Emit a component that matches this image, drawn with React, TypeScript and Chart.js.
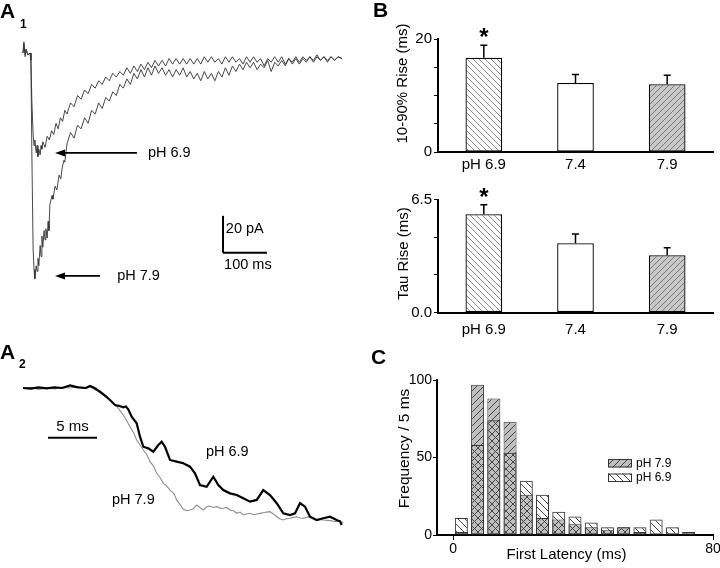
import React, { useEffect, useRef } from "react";
import { Chart, registerables } from "chart.js";
Chart.register(...registerables);

const FONT = "'Liberation Sans', Arial, Helvetica, sans-serif";
Chart.defaults.font.family = FONT;
Chart.defaults.color = "#000";

// ---------- Panel A1: whole EPSC traces, [time ms, current pA] ----------
const A1_PH79: [number, number][] = [
  [0,0],[2,6],[5,-2],[7,2],[11,-1],[16,0],[18,-4],[20,-52],[23,-106],[25,-117],[27,-122],[30,-115],[32,-118],[34,-111],[36,-115],[39,-104],[41,-110],[43,-99],[45,-105],[48,-96],[50,-101],[52,-95],[55,-100],[57,-91],[59,-96],[61,-82],[66,-77],[68,-79],[73,-72],[77,-74],[82,-66],[86,-68],[89,-62],[93,-58],[95,-59],
  [100,-49],[108,-43],[116,-46],[124,-39],[132,-41],[140,-35],[148,-38],[156,-31],[164,-33],[172,-27],[180,-30],[188,-24],[196,-26],[204,-21],[212,-23],[220,-17],[228,-19],[236,-14],[244,-17],[252,-11],[260,-14],[268,-9],[276,-13],[284,-8],[292,-12],[300,-7],[308,-11],[316,-8],[324,-12],[332,-9],[340,-13],[348,-9],[356,-12],[364,-8],[372,-13],[380,-10],[388,-14],[396,-11],[404,-15],[412,-10],[420,-14],[428,-11],[436,-15],[444,-10],[452,-13],[460,-8],[468,-12],[476,-7],[484,-10],[492,-6],[500,-9],[508,-5],[516,-8],[524,-5],[532,-9],[540,-6],[548,-8],[556,-4],[564,-10],[572,-5],[580,-7],[588,-4],[596,-7],[604,-3],[612,-6],[620,-3],[628,-6],[636,-3],[644,-5],[652,-2],[660,-5],[668,-2],[676,-4],[684,-2],[692,-5],[700,-2],[708,-4],[716,-2],[725,-3]
];
const A1_PH69: [number, number][] = [
  [0,0],[2,5],[5,-1],[7,2],[11,-1],[16,0],[18,-3],[20,-25],[23,-44],[25,-50],[27,-47],[30,-54],[32,-50],[34,-56],[36,-52],[39,-55],[41,-50],[43,-52],
  [45,-48],[50,-51],[55,-45],[60,-47],[65,-42],[70,-44],[75,-38],[80,-41],[85,-35],[90,-37],[95,-31],[100,-33],[108,-27],[116,-29],[124,-23],[132,-25],[140,-20],[148,-22],[156,-17],[164,-19],[172,-15],[180,-17],[188,-13],[196,-15],[204,-11],[212,-13],[220,-10],[228,-12],[236,-8],[244,-11],[252,-7],[260,-10],[268,-6],[276,-9],[284,-5],[292,-8],[300,-4],[308,-7],[316,-4],[324,-7],[332,-3],[340,-6],[348,-3],[356,-6],[364,-3],[372,-6],[380,-3],[388,-6],[396,-3],[404,-6],[412,-2],[420,-5],[428,-2],[436,-5],[444,-3],[452,-6],[460,-2],[468,-5],[476,-2],[484,-5],[492,-3],[500,-6],[508,-2],[516,-5],[524,-2],[532,-5],[540,-3],[548,-7],[556,-3],[564,-5],[572,-2],[580,-5],[588,-2],[596,-6],[604,-3],[612,-5],[620,-2],[628,-5],[636,-2],[644,-4],[652,-2],[660,-4],[668,-1],[676,-4],[684,-2],[692,-4],[700,-2],[708,-4],[716,-2],[725,-3]
];

// ---------- Panel A2: rising phase, [time ms, normalised current] ----------
const A2_PH79: [number, number][] = [
  [0,0],[0.8,0.005],[1.6,-0.01],[2.4,0],[3.2,-0.008],[4,0.005],[4.8,0],[5.6,0.01],[6.4,-0.005],[6.84,0.01],[7.5,-0.02],[8.19,-0.053],[8.7,-0.08],[9.21,-0.116],[9.7,-0.15],[10.23,-0.205],[10.6,-0.25],[10.92,-0.293],[11.3,-0.34],[11.6,-0.394],[11.94,-0.43],[12.28,-0.47],[12.6,-0.5],[12.96,-0.558],[13.3,-0.59],[13.64,-0.646],[14,-0.68],[14.32,-0.722],[14.7,-0.745],[15,-0.773],[15.4,-0.8],[15.68,-0.848],[16,-0.88],[16.36,-0.919],[16.7,-0.93],[17.04,-0.924],[17.4,-0.915],[17.72,-0.886],[18.06,-0.905],[18.4,-0.924],[18.74,-0.9],[19.08,-0.894],[19.42,-0.905],[19.77,-0.899],[20.1,-0.91],[20.44,-0.911],[20.8,-0.905],[21.12,-0.924],[21.5,-0.93],[21.81,-0.949],[22.15,-0.94],[22.48,-0.962],[22.8,-0.955],[23.16,-0.949],[23.5,-0.96],[23.85,-0.955],[24.2,-0.95],[24.52,-0.945],[24.85,-0.94],[25.2,-0.937],[25.55,-0.955],[25.89,-0.975],[26.2,-0.99],[26.56,-1],[26.9,-0.99],[27.24,-0.987],[27.6,-0.98],[27.93,-0.975],[28.27,-0.985],[28.6,-0.987],[28.95,-0.98],[29.29,-0.975],[29.63,-0.99],[29.97,-1],[30.3,-0.995],[30.64,-1],[31.33,-1.005],[32.01,-1.013],[32.35,-1.01],[32.68,-1.02]
];
const A2_PH69: [number, number][] = [
  [0,0],[0.8,-0.005],[1.6,0.005],[2.4,-0.003],[3.2,0.005],[4,0],[4.8,0.02],[5.3,0.01],[5.6,0.005],[6.4,0],[6.84,0.015],[7.3,0],[7.86,-0.028],[8.4,-0.06],[8.88,-0.091],[9.39,-0.129],[9.8,-0.135],[10.23,-0.146],[10.5,-0.14],[10.74,-0.161],[11.09,-0.217],[11.6,-0.267],[11.94,-0.369],[12.28,-0.445],[12.79,-0.457],[13.3,-0.483],[13.81,-0.432],[14.15,-0.407],[14.49,-0.445],[15,-0.545],[15.68,-0.558],[16.36,-0.57],[17.04,-0.596],[17.55,-0.646],[18.06,-0.735],[18.74,-0.748],[19.42,-0.672],[19.93,-0.735],[20.44,-0.773],[21.12,-0.798],[21.81,-0.811],[22.48,-0.836],[23.16,-0.861],[23.85,-0.848],[24.52,-0.773],[25.2,-0.811],[25.89,-0.873],[26.56,-0.949],[27.24,-0.962],[27.76,-0.949],[28.27,-0.873],[28.78,-0.899],[29.29,-0.975],[29.97,-1],[30.64,-0.987],[31.33,-0.975],[32.01,-1],[32.35,-1.01],[32.52,-1.038]
];

// ---------- Panel B ----------
const B_CATEGORIES = ["pH 6.9", "7.4", "7.9"];
const RISE_1090_MS = [16.7, 12.2, 12.0];
const RISE_1090_SEM = [2.2, 1.5, 1.6];
const TAU_RISE_MS = [5.65, 3.98, 3.29];
const TAU_RISE_SEM = [0.55, 0.53, 0.44];
const SIGNIFICANT = [true, false, false];
const RISE_TICKS = [0, 5, 10, 15, 20];
const TAU_TICKS = [0, 2.1667, 4.3333, 6.5];

// ---------- Panel C ----------
const LATENCY_BIN_CENTERS = [2.5, 7.5, 12.5, 17.5, 22.5, 27.5, 32.5, 37.5, 42.5, 47.5, 52.5, 57.5, 62.5, 67.5, 72.5];
const FREQ_PH79 = [2, 97, 88, 73, 26, 11, 10, 7, 5, 3, 5, 2, 0, 1, 2];
const FREQ_PH69 = [11, 58, 74, 53, 35, 26, 15, 12, 8, 5, 5, 5, 10, 5, 1];
const LATENCY_TICKS = [0, 80];
const FREQ_TICKS = [0, 50, 100];

// ---------- helpers ----------
function hatch(bg: string | null, fg: string, dir: "/" | "\\", size: number, lw: number) {
  const c = document.createElement("canvas");
  c.width = size; c.height = size;
  const g = c.getContext("2d")!;
  if (bg) { g.fillStyle = bg; g.fillRect(0, 0, size, size); }
  g.strokeStyle = fg; g.lineWidth = lw;
  const ln = (a: number, b: number, cc: number, d: number) => { g.beginPath(); g.moveTo(a, b); g.lineTo(cc, d); g.stroke(); };
  if (dir === "/") { ln(-1, size + 1, size + 1, -1); ln(-1, 1, 1, -1); ln(size - 1, size + 1, size + 1, size - 1); }
  else { ln(-1, -1, size + 1, size + 1); ln(size - 1, -1, size + 1, 1); ln(-1, size - 1, 1, size + 1); }
  return g.createPattern(c, "repeat")!;
}

type TextItem = { text: string; x: number; y: number; size: number; bold?: boolean; align?: CanvasTextAlign; baseline?: CanvasTextBaseline; rotate?: number; data?: boolean };
type Seg = { x1: number; y1: number; x2: number; y2: number; w: number; arrow?: boolean };

function annotPlugin(texts: TextItem[], segs: Seg[]) {
  return {
    id: "annot",
    afterDraw(chart: any) {
      const ctx = chart.ctx as CanvasRenderingContext2D;
      const sx = chart.scales.x, sy = chart.scales.y;
      for (const s of segs) {
        const x1 = sx.getPixelForValue(s.x1), y1 = sy.getPixelForValue(s.y1);
        const x2 = sx.getPixelForValue(s.x2), y2 = sy.getPixelForValue(s.y2);
        ctx.save();
        ctx.strokeStyle = "#000"; ctx.fillStyle = "#000"; ctx.lineWidth = s.w;
        ctx.beginPath();
        ctx.moveTo(x1, y1);
        ctx.lineTo(s.arrow ? x2 + 8 : x2, y2);
        ctx.stroke();
        if (s.arrow) {
          ctx.beginPath();
          ctx.moveTo(x2, y2);
          ctx.lineTo(x2 + 10, y2 - 3.5);
          ctx.lineTo(x2 + 10, y2 + 3.5);
          ctx.closePath();
          ctx.fill();
        }
        ctx.restore();
      }
      for (const t of texts) {
        let x = t.x, y = t.y;
        if (t.data) { x = sx.getPixelForValue(t.x); y = sy.getPixelForValue(t.y); }
        ctx.save();
        ctx.font = `${t.bold ? "bold " : ""}${t.size}px ${FONT}`;
        ctx.fillStyle = "#000";
        ctx.textAlign = t.align || "left";
        ctx.textBaseline = t.baseline || "middle";
        ctx.translate(x, y);
        if (t.rotate) ctx.rotate(t.rotate);
        ctx.fillText(t.text, 0, 0);
        ctx.restore();
      }
    },
  };
}

function errorBarPlugin(values: number[], sem: number[], sig: boolean[]) {
  return {
    id: "errbars",
    afterDatasetsDraw(chart: any) {
      const meta = chart.getDatasetMeta(0);
      const ys = chart.scales.y;
      const ctx = chart.ctx as CanvasRenderingContext2D;
      meta.data.forEach((bar: any, i: number) => {
        const top = ys.getPixelForValue(values[i] + sem[i]);
        const x = bar.x;
        ctx.save();
        ctx.strokeStyle = "#000"; ctx.lineWidth = 1.5;
        ctx.beginPath();
        ctx.moveTo(x, bar.y); ctx.lineTo(x, top);
        ctx.moveTo(x - 3.5, top); ctx.lineTo(x + 3.5, top);
        ctx.stroke();
        if (sig[i]) {
          ctx.font = `bold 24px ${FONT}`;
          ctx.fillStyle = "#000";
          ctx.textAlign = "center";
          ctx.textBaseline = "alphabetic";
          ctx.fillText("*", x, top);
        }
        ctx.restore();
      });
    },
  };
}

function legendPlugin() {
  return {
    id: "patLegend",
    afterDraw(chart: any) {
      const ctx = chart.ctx as CanvasRenderingContext2D;
      const items = [chart.data.datasets[0], chart.data.datasets[1]];
      items.forEach((ds: any, i: number) => {
        const bx = 228, by = 109 + i * 14.5;
        ctx.save();
        ctx.fillStyle = "#fff"; ctx.fillRect(bx, by, 24, 8.5);
        ctx.fillStyle = ds.backgroundColor; ctx.fillRect(bx, by, 24, 8.5);
        ctx.strokeStyle = "#333"; ctx.lineWidth = 1; ctx.strokeRect(bx + 0.5, by + 0.5, 23, 7.5);
        ctx.font = `12px ${FONT}`; ctx.fillStyle = "#000"; ctx.textAlign = "left"; ctx.textBaseline = "middle";
        ctx.fillText(ds.label, bx + 28, by + 4.5);
        ctx.restore();
      });
    },
  };
}

function ChartBox(props: { left: number; top: number; width: number; height: number; make: () => any }) {
  const ref = useRef<HTMLCanvasElement>(null);
  useEffect(() => {
    const chart = new Chart(ref.current!, props.make());
    return () => chart.destroy();
  }, []);
  return (
    <canvas
      ref={ref}
      width={props.width}
      height={props.height}
      style={{ position: "absolute", left: props.left, top: props.top, width: props.width, height: props.height }}
    />
  );
}

const baseOpts = { responsive: false, animation: false as const, devicePixelRatio: 1, events: [] as any[] };

function traceConfig(
  datasets: any[], xr: [number, number], yr: [number, number], texts: TextItem[], segs: Seg[]
) {
  return {
    type: "line",
    data: { datasets },
    options: {
      ...baseOpts,
      layout: { padding: 0 },
      plugins: { legend: { display: false }, tooltip: { enabled: false } },
      scales: {
        x: { type: "linear", display: false, min: xr[0], max: xr[1] },
        y: { type: "linear", display: false, min: yr[0], max: yr[1] },
      },
    },
    plugins: [annotPlugin(texts, segs)],
  };
}

const toXY = (arr: [number, number][]) => arr.map(([x, y]) => ({ x, y }));

function makeA1() {
  return traceConfig(
    [
      { data: toXY(A1_PH69), borderColor: "#333333", borderWidth: 0.9, pointRadius: 0, tension: 0 },
      { data: toXY(A1_PH79), borderColor: "#333333", borderWidth: 0.9, pointRadius: 0, tension: 0 },
    ],
    [-52.27, 788.6], [-133.5, 28.65],
    [
      { text: "pH 6.9", x: 284, y: -54, size: 14.5, data: true },
      { text: "pH 7.9", x: 214, y: -120.5, size: 14.5, data: true },
      { text: "20 pA", x: 461, y: -95, size: 14.5, data: true },
      { text: "100 ms", x: 457, y: -114.6, size: 14.5, data: true },
    ],
    [
      { x1: 259, y1: -54, x2: 72.7, y2: -54, w: 1.8, arrow: true },
      { x1: 175, y1: -120.5, x2: 72.7, y2: -120.5, w: 1.8, arrow: true },
      { x1: 454.5, y1: -88, x2: 454.5, y2: -108, w: 2 },
      { x1: 454.5, y1: -108, x2: 554.5, y2: -108, w: 2 },
    ]
  );
}

function makeA2() {
  return traceConfig(
    [
      { data: toXY(A2_PH69), borderColor: "#000", borderWidth: 2.2, pointRadius: 0, tension: 0 },
      { data: toXY(A2_PH79), borderColor: "#8c8c8c", borderWidth: 1.1, pointRadius: 0, tension: 0 },
    ],
    [-2.347, 35.41], [-1.3636, 0.6667],
    [
      { text: "5 ms", x: 5.05, y: -0.293, size: 15, align: "center", data: true },
      { text: "pH 6.9", x: 18.67, y: -0.483, size: 14.5, data: true },
      { text: "pH 7.9", x: 9.08, y: -0.848, size: 14.5, data: true },
    ],
    [{ x1: 2.55, y1: -0.3765, x2: 7.55, y2: -0.3765, w: 2 }]
  );
}

function barConfig(values: number[], sem: number[], ticks: number[], max: number, labelFn: (v: number) => string,
  padTop: number, xHeight: number, xPad: number, title: TextItem) {
  const p69 = hatch("#ffffff", "#8a8a8a", "\\", 6, 1);
  const p79 = hatch("#c8c8c8", "#7a7a7a", "/", 6, 1);
  return {
    type: "bar",
    data: {
      labels: B_CATEGORIES,
      datasets: [{
        data: values,
        backgroundColor: [p69, "#ffffff", p79],
        borderColor: "#000",
        borderWidth: 1.3,
        borderSkipped: false,
        barPercentage: 0.4,
        categoryPercentage: 1,
      }],
    },
    options: {
      ...baseOpts,
      layout: { padding: { top: padTop, right: 7, left: 0, bottom: 0 } },
      plugins: { legend: { display: false }, tooltip: { enabled: false } },
      scales: {
        x: {
          grid: { display: false },
          border: { display: true, color: "#000", width: 2 },
          ticks: { color: "#000", font: { size: 15 }, padding: xPad, maxRotation: 0, autoSkip: false },
          afterFit: (s: any) => { s.height = xHeight; s.paddingLeft = 0; s.paddingRight = 0; },
        },
        y: {
          min: 0, max,
          afterBuildTicks: (s: any) => { s.ticks = ticks.map((v) => ({ value: v })); },
          ticks: { color: "#000", font: { size: 15 }, padding: 2, autoSkip: false, callback: (v: any) => labelFn(Number(v)) },
          grid: { drawOnChartArea: false, drawTicks: true, tickLength: 4, color: "#000", lineWidth: 1 },
          border: { display: true, color: "#000", width: 2 },
          afterFit: (s: any) => { s.width = 58; s.paddingTop = 0; s.paddingBottom = 0; },
        },
      },
    },
    plugins: [errorBarPlugin(values, sem, SIGNIFICANT), annotPlugin([title], [])],
  };
}

function makeB1() {
  return barConfig(RISE_1090_MS, RISE_1090_SEM, RISE_TICKS, 20,
    (v) => (v === 0 || v === 20 ? String(v) : ""), 19, 33, -4,
    { text: "10-90% Rise (ms)", x: 23, y: 63.5, size: 15, align: "center", rotate: -Math.PI / 2 });
}

function makeB2() {
  return barConfig(TAU_RISE_MS, TAU_RISE_SEM, TAU_TICKS, 6.5,
    (v) => (v === 0 ? "0.0" : v === 6.5 ? "6.5" : ""), 14.5, 32.5, 0,
    { text: "Tau Rise (ms)", x: 24, y: 68.5, size: 15, align: "center", rotate: -Math.PI / 2 });
}

function makeC() {
  const p79 = hatch("#bfbfbf", "#444444", "/", 7, 1);
  const p69 = hatch(null, "#444444", "\\", 7, 1);
  const common = { borderColor: "#333", borderWidth: 1, borderSkipped: false, grouped: false, barPercentage: 0.8, categoryPercentage: 1 };
  return {
    type: "bar",
    data: {
      datasets: [
        { label: "pH 7.9", data: LATENCY_BIN_CENTERS.map((x, i) => ({ x, y: FREQ_PH79[i] })), backgroundColor: p79, order: 1, ...common },
        { label: "pH 6.9", data: LATENCY_BIN_CENTERS.map((x, i) => ({ x, y: FREQ_PH69[i] })), backgroundColor: p69, order: 0, ...common },
      ],
    },
    options: {
      ...baseOpts,
      layout: { padding: { top: 30, right: 7, left: 0, bottom: 0 } },
      plugins: { legend: { display: false }, tooltip: { enabled: false } },
      scales: {
        x: {
          type: "linear", min: -5, max: 80, offset: false,
          afterBuildTicks: (s: any) => { s.ticks = LATENCY_TICKS.map((v) => ({ value: v })); },
          grid: { drawOnChartArea: false, offset: false, tickLength: 5, color: "#000", lineWidth: 1 },
          border: { display: true, color: "#000", width: 2 },
          ticks: { color: "#000", font: { size: 14 }, padding: 1, maxRotation: 0, autoSkip: false },
          afterFit: (s: any) => { s.height = 33; s.paddingLeft = 0; s.paddingRight = 0; },
        },
        y: {
          min: 0, max: 100,
          afterBuildTicks: (s: any) => { s.ticks = FREQ_TICKS.map((v) => ({ value: v })); },
          grid: { drawOnChartArea: false, tickLength: 4, color: "#000", lineWidth: 1 },
          border: { display: true, color: "#000", width: 2 },
          ticks: { color: "#000", font: { size: 14 }, padding: 1, autoSkip: false },
          afterFit: (s: any) => { s.width = 57; s.paddingTop = 0; s.paddingBottom = 0; },
        },
      },
    },
    plugins: [
      legendPlugin(),
      annotPlugin([
        { text: "Frequency / 5 ms", x: 25, y: 98.5, size: 15.5, align: "center", rotate: -Math.PI / 2 },
        { text: "First Latency (ms)", x: 186.5, y: 205, size: 15, align: "center" },
      ], []),
    ],
  };
}

function Glyph(props: { left: number; baseline: number; size: number; text: string }) {
  return (
    <div style={{
      position: "absolute", left: props.left, top: props.baseline - 0.8465 * props.size,
      fontFamily: FONT, fontWeight: "bold", fontSize: props.size, lineHeight: 1, whiteSpace: "nowrap",
    }}>{props.text}</div>
  );
}

export default function App() {
  return (
    <div style={{ position: "absolute", left: 0, top: 0, width: 720, height: 568, background: "#fff", overflow: "hidden" }}>
      <ChartBox left={0} top={0} width={370} height={300} make={makeA1} />
      <ChartBox left={0} top={300} width={370} height={268} make={makeA2} />
      <ChartBox left={380} top={20} width={340} height={165} make={makeB1} />
      <ChartBox left={380} top={185} width={340} height={160} make={makeB2} />
      <ChartBox left={380} top={350} width={340} height={218} make={makeC} />
      <Glyph left={0} baseline={17.5} size={21} text="A" />
      <Glyph left={20} baseline={28} size={12} text="1" />
      <Glyph left={0} baseline={358.5} size={21} text="A" />
      <Glyph left={19} baseline={368} size={12} text="2" />
      <Glyph left={373} baseline={17} size={21} text="B" />
      <Glyph left={371} baseline={364} size={21} text="C" />
    </div>
  );
}
